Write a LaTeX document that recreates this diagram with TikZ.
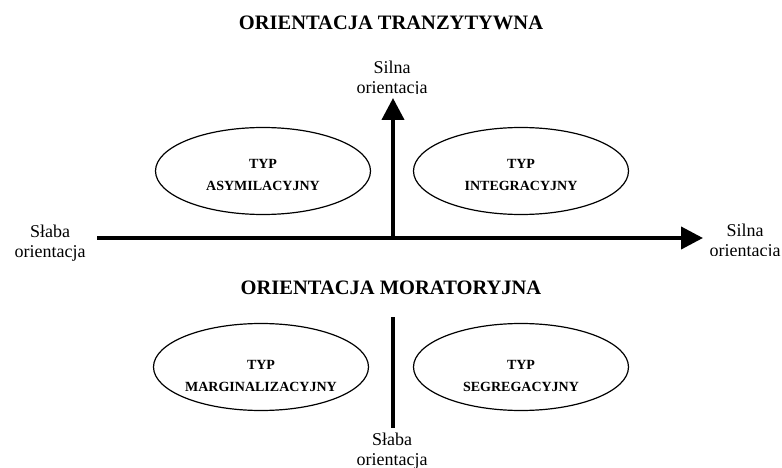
\documentclass[tikz,border=0pt]{standalone}
\usepackage{fontspec}
\setmainfont{Liberation Serif}
\usetikzlibrary{shapes.geometric,arrows.meta}

\begin{document}
\begin{tikzpicture}[x=1pt,y=-1pt]
    \tikzstyle{title}=[font=\fontsize{20.5}{24}\selectfont\bfseries]
    \tikzstyle{side}=[align=center,inner sep=0pt,font=\fontsize{18}{19.5}\selectfont]
    \tikzstyle{typ}=[ellipse,draw,line width=1.2pt,minimum width=215pt,minimum height=87pt]
    \tikzstyle{typtext}=[align=center,font=\fontsize{14}{22}\selectfont\bfseries]
    \tikzstyle{axis}=[line width=4pt]
    \tikzstyle{tip}=[-{Triangle[length=22pt,width=22pt]}]
    \useasboundingbox (0,0) rectangle (782,468);
    % titles
    \node[title] (tran) at (391,23) {ORIENTACJA TRANZYTYWNA};
    \node[title] (mora) at (391,288) {ORIENTACJA MORATORYJNA};
    % axes
    \coordinate (xl) at (97,238);
    \coordinate (xr) at (703,238);
    \coordinate (o) at (393,238);
    \coordinate (yt) at (393,98);
    \coordinate (lt) at (393,317);
    \coordinate (lb) at (393,428);
    \draw[axis,tip] (xl) -- (xr);
    \draw[axis,tip] (o) -- (yt);
    \draw[axis] (lt) -- (lb);
    % axis labels
    \node[side] (slabax) at (50,243) {Słaba\\orientacja};
    \begin{scope}
      \clip (700,210) rectangle (782,255);
      \node[side] (silnax) at (745,242) {Silna\\orientacja};
    \end{scope}
    \begin{scope}
      \clip (330,40) rectangle (460,93.5);
      \node[side] (silnay) at (392,79) {Silna\\orientacja};
    \end{scope}
    \node[side] (slabay) at (392,451) {Słaba\\orientacja};
    % types
    \node[typ] (asym) at (263,171) {};
    \node[typ] (integ) at (521,171) {};
    \node[typ] (marg) at (261,367) {};
    \node[typ] (segr) at (521,367) {};
    \node[typtext] at ([yshift=-3.5pt]asym) {TYP\\ASYMILACYJNY};
    \node[typtext] at ([yshift=-3.5pt]integ) {TYP\\INTEGRACYJNY};
    \node[typtext] at ([yshift=-8.5pt]marg) {TYP\\MARGINALIZACYJNY};
    \node[typtext] at ([yshift=-8.5pt]segr) {TYP\\SEGREGACYJNY};
\end{tikzpicture}
\end{document}
